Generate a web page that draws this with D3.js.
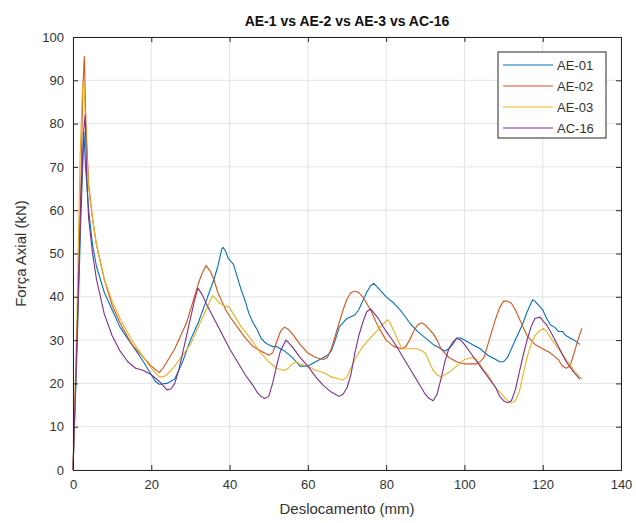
<!DOCTYPE html>
<html><head><meta charset="utf-8">
<script src="https://cdn.jsdelivr.net/npm/d3@7"></script>
<style>body{margin:0;background:#fff}svg{display:block}text{font-family:"Liberation Sans",Arial,sans-serif}</style>
</head><body>
<script>
const xTicks=[0,20,40,60,80,100,120,140];
const yTicks=[0,10,20,30,40,50,60,70,80,90,100];
const seriesNames=["AE-01","AE-02","AE-03","AC-16"];
const seriesColors=["#0072BD","#D95319","#EDB120","#7E2F8E"];

const ae01X=[0,1,2,2.8,3.2,4,5,6,8,10,12,15,18,20,21,22,24,26,28,29,30,32,34,35,36,37,38,38.4,39,39.6,40.2,41,42,43,44,45,46,47,48,49,50,51,52,54,56,57,58,60,62,64,65,66,67,68,70,72,73,74,75,76,76.8,78,79,80,82,84,86,88,90,92,94,95,96,97,98,99,100,102,104,106,108,109,110,111,112,113,114,115,116,117.4,118,119,120,121,122,123,124,125,126,127,128,129.5];
const ae01Y=[0,27,58,78,70,60,52,47,41,37,33,29,25,22,20.5,19.8,20,21,25,27.5,30,34,39,41.5,44,47,51,51.4,50.5,49,48.3,47.5,44.5,41.5,39,36,34,32.5,30.5,29.5,28.9,28.5,28.5,27.5,26,25,24,24,25,26,26.5,27.5,30,33,35,35.8,37,39,41,42.5,43.1,42,41,40,38.5,36.5,34,32,30.5,29,28,27.5,28,29,30.5,30.5,30,29,28,26.5,25.5,25,25,26,28,30,32,34,36.5,39.3,39,38,37,35,33.5,33,32,32,31,30.5,30,29];

const ae02X=[0,1,2,2.5,2.9,3.3,4,5,6,8,10,12,15,18,20,22,23,24,25,26,27,28,29,30,31,32,33,34,35,36,37,38,39,40,42,44,46,48,50,51,52,53,54,55,56,58,60,62,64,65,66,67,68,69,70,71,72,73,74,75,76,78,80,82,84,85,86,87,88,89,90,92,93,94,96,98,100,102,103,104,105,106,107,108,109,110,111,112,113,114,115,116,118,120,122,124,125,126,127,128,129,130];
const ae02Y=[0,30,65,88,95.5,80,66,58,52,44,38,34,29,26,24,22.5,23.5,25,26.5,28,30,32,34,37,40,43,45.5,47.2,46,44,41,39,37,35.5,33,30.5,28.5,27.5,26.5,27,29.5,32,33,32.5,31.5,29,27,26,25.5,26,28,31,34,37,39.5,41,41.3,41,40,38.5,37,33,30,28.5,28,28.5,30,32,33.5,34,33.5,31.5,30,28,26,25,24.5,24.5,24.5,25,26,29,32,35,37.5,39,39,38.5,37,35,33,31,29,28,27,25.5,24,23.5,24,27,30,32.7];

const ae03X=[0,1,1.8,2.4,2.8,3.4,4,5,6,8,10,12,15,18,20,21,22,23,24,26,28,30,31,32,33,34,35,35.7,36.5,37.5,38.5,40,41,42,43,44,46,48,50,52,54,55,56,57,58,60,62,64,66,68,69,70,71,72,73,74,76,78,79,80.4,81,82,83,84,86,88,90,91,92,93,94,96,98,100,102,103,104,105,106,107,108,109,110,111,112,113,114,115,116,117,118,119,120.2,121,122,124,126,128,130];
const ae03Y=[0,35,72,88,89.5,75,65,58,52,44,39,35,30,26,23.5,22.5,21.5,21.5,22,24,26.5,29,31,33,35,37,39,40.3,39.5,38.5,38,37.5,36,34.5,33,32,29.5,27,25,23.5,23,23.5,24.5,25,24.5,24,23,22.5,21.5,21,20.8,21.5,23.5,25.5,27,28.5,30.5,32.5,33.5,34.7,34,32,30,28,28,28,27,25,23,22,21.5,22.5,24,25.5,26,25.5,24.5,23,22,20.5,19,18,17,16,15.5,16,18,22,26,29,31,32,32.7,32,30.5,28,25.5,23,21];

const ac16X=[0,1,2,2.7,3.1,3.5,4,5,6,8,10,12,14,16,18,20,22,23,24,25,26,27,28,29,30,31,31.9,33,34,36,38,40,42,44,46,47,48,49,50,51,52,53,54.4,55,56,58,60,62,64,66,67,68,69,70,71,72,73,74,75,76,78,80,82,84,86,88,90,91,92,93,94,95,96,97,98,99,100,102,104,106,108,109,110,111,112,113,114,115,116,117,118,119.3,120,121,122,124,126,128,129.5];
const ac16Y=[0,30,62,78,82,68,58,50,44,36,31,27.5,25,23.5,23,22,20.5,19.5,18.5,18.7,20,23,27,31,35,39,42,40.5,38.5,35,31.5,28,25,22,19.5,18,17,16.5,17,20,24,27.5,30,29.5,28.5,26,24,21.5,19.5,18,17.5,17,17.5,19,22,27,31,34,36.5,37.2,35,32,29.5,26.5,23.5,20.5,17.5,16.5,16,17.5,21,25,28,29.5,30.4,30,29,26.5,24,21.5,19,17,16,15.5,16,18.5,22.5,26.5,30,33,35,35.3,34.5,33.5,32,28.5,25,22.5,21];

const W=636,H=523;
const M={left:73,right:621,top:37,bottom:470};
const svg=d3.select("body").append("svg").attr("width",W).attr("height",H);
const x=d3.scaleLinear().domain([0,140]).range([M.left,M.right]);
const y=d3.scaleLinear().domain([0,100]).range([M.bottom,M.top]);
const axisCol="#262626";

// grid
const g=svg.append("g");
g.selectAll(".vg").data(xTicks).join("line").attr("x1",d=>x(d)).attr("x2",d=>x(d)).attr("y1",M.top).attr("y2",M.bottom).attr("stroke","#e3e3e3");
g.selectAll(".hg").data(yTicks).join("line").attr("y1",d=>y(d)).attr("y2",d=>y(d)).attr("x1",M.left).attr("x2",M.right).attr("stroke","#e3e3e3");

// lines
const series=[[ae01X,ae01Y],[ae02X,ae02Y],[ae03X,ae03Y],[ac16X,ac16Y]];
const line=d3.line().x(d=>x(d[0])).y(d=>y(d[1]));
series.forEach((s,i)=>{
  const pts=s[0].map((v,j)=>[v,s[1][j]]);
  svg.append("path").datum(pts).attr("d",line).attr("fill","none").attr("stroke",seriesColors[i]).attr("stroke-width",1.1).attr("stroke-linejoin","round");
});

// axes
const fs="13px";
const xa=svg.append("g").attr("transform",`translate(0,${M.bottom})`).call(d3.axisBottom(x).tickValues(xTicks).tickSize(-5).tickPadding(10));
const xt=svg.append("g").attr("transform",`translate(0,${M.top})`).call(d3.axisTop(x).tickValues(xTicks).tickSize(-5).tickFormat(""));
const ya=svg.append("g").attr("transform",`translate(${M.left},0)`).call(d3.axisLeft(y).tickValues(yTicks).tickSize(-5).tickPadding(9));
const yr=svg.append("g").attr("transform",`translate(${M.right},0)`).call(d3.axisRight(y).tickValues(yTicks).tickSize(-5).tickFormat(""));
[xa,xt,ya,yr].forEach(a=>{a.selectAll("path").attr("stroke",axisCol);a.selectAll("line").attr("stroke",axisCol);a.selectAll("text").attr("fill","#333").style("font-size",fs).style("font-family","'Liberation Sans',Arial,sans-serif");});

// labels
svg.append("text").attr("x",(M.left+M.right)/2).attr("y",26).attr("text-anchor","middle").style("font-size","14px").style("font-weight","bold").attr("fill","#111").text("AE-1 vs AE-2 vs AE-3 vs AC-16");
svg.append("text").attr("x",(M.left+M.right)/2).attr("y",514).attr("text-anchor","middle").style("font-size","15px").attr("fill","#333").text("Deslocamento (mm)");
svg.append("text").attr("transform",`translate(26,${(M.top+M.bottom)/2}) rotate(-90)`).attr("text-anchor","middle").style("font-size","15px").attr("fill","#333").text("Força Axial (kN)");

// legend
const L={x:498,y:52,w:108,h:86};
svg.append("rect").attr("x",L.x).attr("y",L.y).attr("width",L.w).attr("height",L.h).attr("fill","#fff").attr("stroke",axisCol);
seriesNames.forEach((n,i)=>{
  const yy=L.y+13+i*21;
  svg.append("line").attr("x1",L.x+5).attr("x2",L.x+55).attr("y1",yy).attr("y2",yy).attr("stroke",seriesColors[i]).attr("stroke-width",1.1);
  svg.append("text").attr("x",L.x+59).attr("y",yy+4.5).style("font-size","13px").attr("fill","#333").text(n);
});
</script>
</body></html>
